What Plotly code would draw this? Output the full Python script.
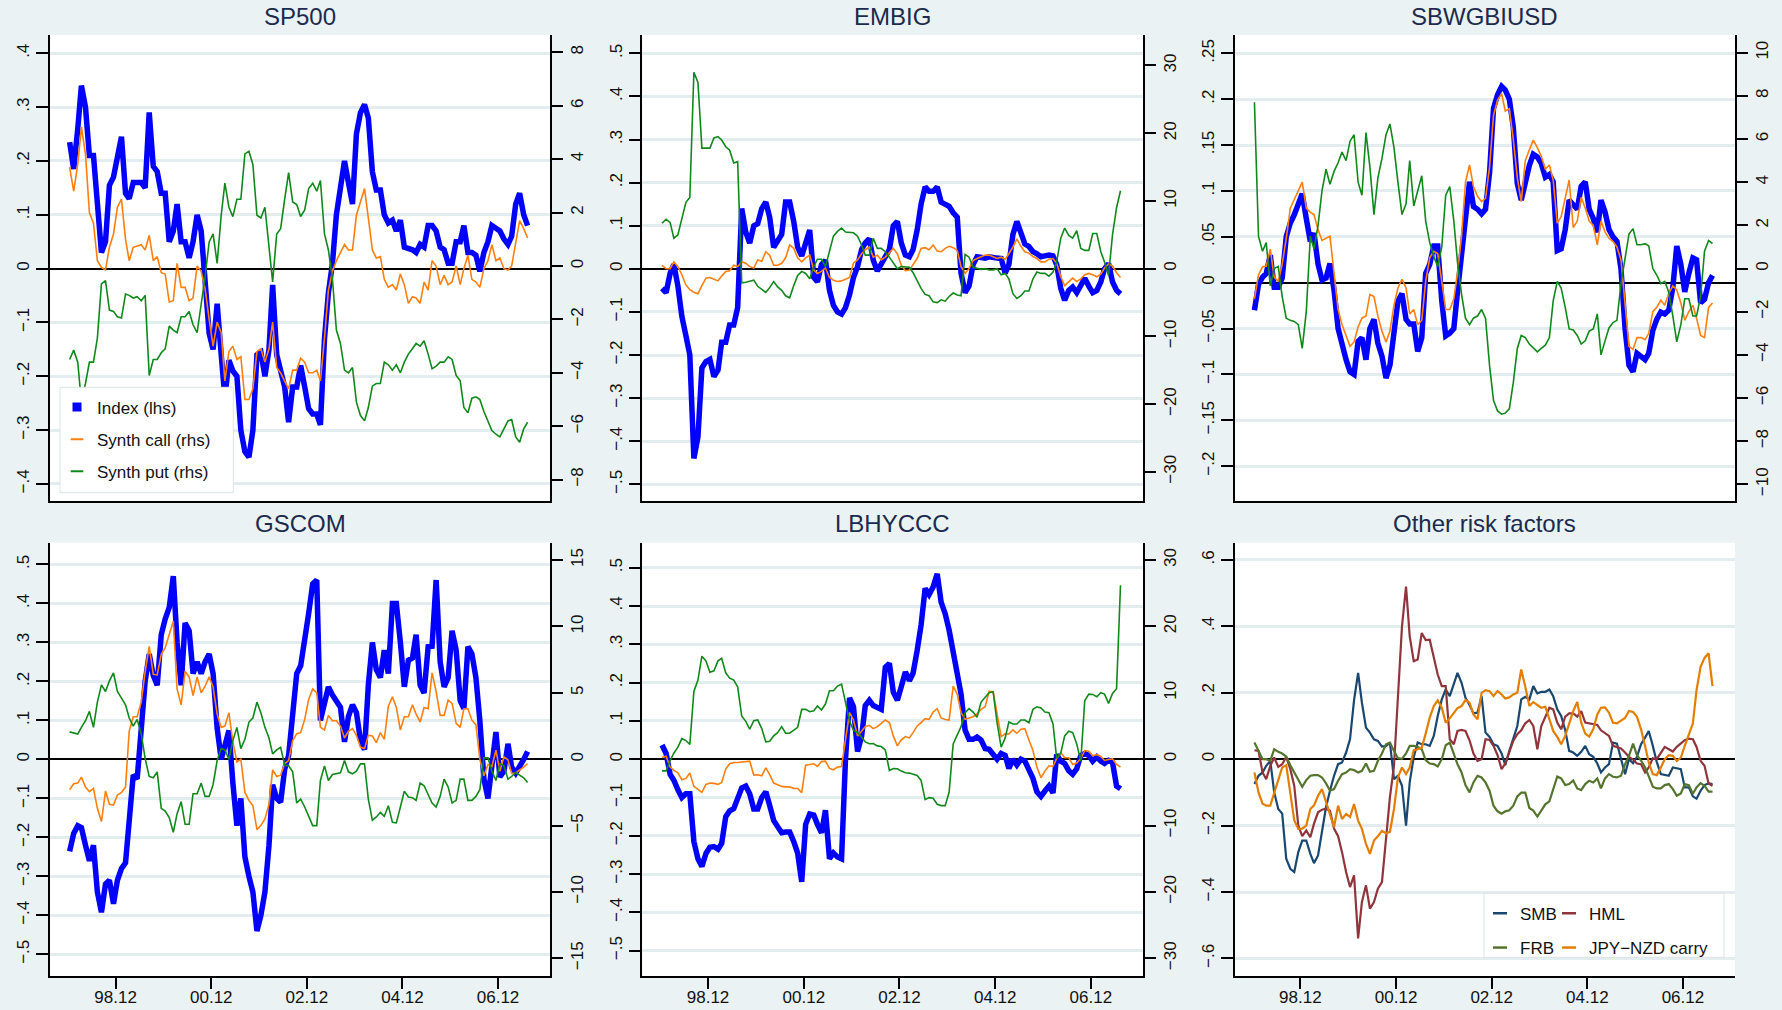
import pandas as pd
import plotly.graph_objects as go

W, H = 1782, 1010
FONT = "Liberation Sans, Arial, Helvetica, sans-serif"

# Monthly observations, Dec 1997 - Jul 2007 (mid-month stamps)
MONTHS = pd.date_range("1997-12-01", periods=116, freq="MS") + pd.Timedelta(days=14)
X_RANGE = ["1997-07-18", "2008-01-02"]
TICK_DATES = ["1998-12-01", "2000-12-01", "2002-12-01", "2004-12-01", "2006-12-01"]
TICK_LABELS = ["98.12", "00.12", "02.12", "04.12", "06.12"]

# ---------------- SP500 ----------------
SP500_INDEX = [
    .235, .185, .26, .34, .30, .21, .21, .13, .03, .05,
    .155, .17, .21, .245, .14, .13, .16, .16, .16, .15,
    .29, .19, .18, .14, .14, .05, .07, .12, .05, .05,
    .02, .05, .10, .07, -.01, -.12, -.15, -.065, -.16, -.24,
    -.17, -.19, -.20, -.30, -.34, -.35, -.30, -.16, -.155, -.20,
    -.15, -.03, -.16, -.19, -.22, -.285, -.22, -.22, -.18, -.22,
    -.26, -.27, -.27, -.29, -.13, -.045, .01, .10, .15, .20,
    .16, .12, .25, .29, .305, .28, .18, .146, .146, .10,
    .085, .09, .07, .09, .04, .038, .035, .03, .045, .04,
    .08, .08, .07, .04, .035, .01, .01, .05, .05, .08,
    .03, .03, .025, -.005, .03, .05, .08, .075, .07, .055,
    .045, .06, .12, .14, .10, .08]
SP500_CALL = [
    3.7, 2.8, 3.8, 5.2, 4.2, 2.0, 1.6, 0.2, -0.05, -0.15,
    0.7, 1.2, 2.2, 2.5, 1.0, 0.2, 0.7, 0.75, 0.8, 0.6,
    1.15, 0.2, 0.35, -0.25, -0.3, -1.35, -1.3, 0.1, -0.8, -0.8,
    -1.3, -1.2, 0.0, -0.2, -0.85, -2.0, -3.0, -2.1, -2.5, -4.3,
    -3.2, -3.0, -3.5, -3.4, -5.0, -5.0, -4.6, -3.2, -3.1, -3.6,
    -3.1, -2.1, -3.8, -4.0, -4.3, -4.6, -3.9, -3.9, -3.45, -3.6,
    -4.0, -4.0, -3.9, -4.3, -2.7, -0.9, -0.2, 0.2, 0.5, 0.8,
    0.6, 0.6, 1.9, 2.4, 2.9, 1.8, 0.6, 0.3, 0.35, -0.5,
    -0.8, -0.7, -0.9, -0.3, -0.7, -1.4, -1.15, -1.2, -1.4, -0.6,
    -0.9, 0.2, 0.0, -0.7, -0.35, -0.7, -0.6, 0.0, -0.7, -0.1,
    0.4, -0.5, -0.6, -0.8, -0.1, 0.2, 0.8, 0.2, 0.3, -0.1,
    -0.15, 0.0, 0.9, 1.7, 1.4, 1.05]
SP500_PUT = [
    -3.5, -3.15, -3.6, -5.1, -4.4, -3.6, -3.6, -2.7, -0.67, -0.55,
    -1.65, -1.7, -1.9, -1.95, -1.05, -1.1, -1.2, -1.15, -1.3, -1.1,
    -4.1, -3.5, -3.5, -3.25, -3.1, -2.25, -2.4, -2.5, -1.9, -1.9,
    -1.7, -2.2, -2.5, -1.5, -0.4, 0.9, 1.2, 0.1, 1.9, 3.1,
    2.2, 1.85, 2.5, 2.5, 4.2, 4.3, 3.8, 1.9, 1.8, 2.2,
    0.8, -0.6, 1.2, 1.4, 2.5, 3.5, 2.4, 2.3, 1.85, 2.1,
    2.9, 3.1, 2.8, 3.2, 1.2, 0.6, -0.5, -2.4, -2.9, -3.9,
    -4.0, -3.8, -5.1, -5.6, -5.8, -5.3, -4.5, -4.4, -4.4, -3.6,
    -3.7, -3.9, -3.7, -4.0, -3.6, -3.3, -3.1, -2.9, -3.0, -2.8,
    -3.3, -3.85, -3.75, -3.6, -3.6, -3.4, -3.5, -4.1, -4.3, -5.3,
    -5.5, -4.95, -4.9, -5.0, -5.45, -5.8, -6.16, -6.3, -6.4, -6.1,
    -5.8, -5.75, -6.4, -6.6, -6.1, -5.85]

# ---------------- EMBIG ----------------
EMBIG_INDEX = [
    -.045, -.055, -.01, .01, -.04, -.11, -.155, -.20, -.44, -.39,
    -.23, -.215, -.21, -.25, -.235, -.17, -.17, -.13, -.13, -.09,
    .14, .085, .06, .10, .105, .14, .155, .12, .05, .065,
    .08, .155, .155, .11, .05, .03, .06, .09, -.02, -.03,
    .01, .02, -.05, -.085, -.10, -.105, -.09, -.06, -.02, .005,
    .045, .06, .07, .02, -.005, .012, .025, .045, .10, .11,
    .06, .032, .028, .045, .09, .15, .19, .18, .18, .19,
    .155, .15, .145, .13, .12, -.01, -.055, -.04, .01, .028,
    .025, .025, .028, .028, .025, .024, -.01, .01, .08, .11,
    .08, .058, .052, .04, .035, .028, .03, .032, .03, .01,
    -.045, -.073, -.05, -.042, -.055, -.04, -.022, -.04, -.055, -.05,
    -.03, .0, .012, -.03, -.05, -.058]
EMBIG_CALL = [
    .5, 0.0, 0.0, 1.0, .3, -.9, -2.4, -3.1, -3.5, -3.7,
    -2.5, -1.4, -1.3, -1.55, -1.8, -1.1, -.4, -.3, .5, .3,
    1.0, .8, .3, .1, 1.3, 1.1, 2.5, 2.0, .5, .5,
    .8, 1.6, 3.5, 3.0, 1.6, 1.0, 1.6, 2.0, -.2, -.7,
    -.4, .1, -1.3, -1.7, -1.9, -1.8, -1.6, -1.3, .8, 1.3,
    2.2, 2.8, 3.2, 1.7, 2.0, 1.3, 1.7, 2.3, 3.0, 2.2,
    .5, -.3, -.2, .6, 1.5, 3.0, 3.1, 2.8, 3.5, 2.6,
    2.5, 3.0, 3.3, 3.1, 2.7, .3, -.7, 0.0, 1.2, 1.5,
    1.8, 2.0, 2.0, 1.8, 1.5, 1.7, 1.4, 2.2, 3.2, 4.4,
    3.3, 2.5, 2.3, 1.8, 1.5, 1.0, 1.0, 1.4, 1.5, .8,
    -1.2, -2.5, -1.9, -1.4, -1.9, -1.5, -.9, -.7, -.9, -1.2,
    -.8, .1, .7, .4, -.6, -1.3]
EMBIG_PUT = [
    6.7, 7.3, 6.8, 4.5, 5.0, 7.5, 9.8, 10.5, 29.0, 27.5,
    17.8, 17.8, 17.8, 19.3, 19.5, 19.0, 18.0, 17.5, 15.6, 15.8,
    -2.1, -2.0, -1.9, -1.7, -2.6, -3.1, -3.5, -2.8, -1.9, -2.7,
    -3.2, -4.0, -4.3, -2.5, -1.0, -.4, -.7, -1.5, .3, 1.4,
    1.4, .3, 2.5, 4.8, 5.5, 6.0, 5.4, 5.3, 5.3, 4.8,
    3.5, 2.0, 2.0, 4.5, 3.0, 3.0, 2.5, 1.7, .8, 0.0,
    .3, .3, .2, -.6, -1.9, -2.9, -3.8, -4.0, -4.9, -5.0,
    -4.6, -4.8, -4.1, -3.6, -3.9, -4.0, 2.1, 1.7, .2, 0.0,
    -.1, 0.0, -.2, -.2, 0.0, -.9, -.7, -1.5, -3.7, -4.4,
    -4.0, -3.3, -3.3, -1.5, -.5, -.7, -.7, -1.1, -.5, 1.0,
    4.5, 6.0, 4.9, 4.5, 5.6, 3.0, 2.7, 2.7, 5.2, 5.2,
    2.5, 1.0, -1.0, 5.0, 9.0, 11.5]

# ---------------- SBWGBIUSD ----------------
SBW_INDEX = [
    -.03, -.002, .006, .01, .03, -.005, -.005, .005, .05, .065,
    .074, .087, .097, .07, .045, .054, .02, .003, .005, .021,
    -.008, -.05, -.07, -.084, -.097, -.10, -.064, -.06, -.084, -.05,
    -.04, -.066, -.08, -.104, -.09, -.05, -.02, -.012, -.04, -.045,
    -.045, -.075, -.06, .01, .02, .04, .04, -.02, -.058, -.055,
    -.05, -.01, .032, .08, .11, .083, .08, .075, .08, .12,
    .19, .205, .214, .21, .20, .17, .108, .09, .11, .128,
    .14, .137, .13, .115, .118, .11, .035, .037, .058, .09,
    .085, .08, .105, .11, .08, .07, .055, .09, .077, .058,
    .05, .045, .015, -.05, -.09, -.097, -.077, -.08, -.084, -.077,
    -.052, -.04, -.032, -.034, -.03, -.005, .04, .02, -.01, .01,
    .027, .025, -.022, -.018, 0.0, .008]
SBW_CALL = [
    -1.4, -.3, .08, .1, .9, -.4, -.6, .2, 1.4, 2.8,
    3.2, 3.6, 4.0, 2.8, 2.6, 2.5, 1.8, 1.3, 1.4, 1.5,
    -.2, -1.9, -2.6, -3.1, -3.6, -3.4, -2.7, -2.3, -2.2, -1.2,
    -1.3, -2.2, -2.9, -3.4, -2.9, -1.7, -.9, -.5, -.9, -2.1,
    -1.9, -2.6, -2.4, -.6, .5, .8, .7, -.6, -1.9, -1.9,
    -1.4, -.2, 1.5, 4.0, 4.8, 3.8, 3.35, 3.1, 3.25, 4.7,
    7.1, 7.8, 8.1, 7.3, 7.4, 6.0, 4.2, 3.1, 5.0, 5.5,
    5.95, 5.6, 5.2, 4.6, 4.8, 4.1, 2.1, 2.4, 3.2, 4.1,
    1.9, 2.2, 3.3, 2.8, 2.2, 2.0, 1.1, 2.2, 1.7, 1.4,
    1.25, 1.0, .4, -1.6, -3.6, -3.75, -3.2, -3.2, -3.3, -3.0,
    -2.0, -1.8, -1.47, -1.7, -1.15, -.8, -1.0, -1.6, -2.4, -2.0,
    -1.7, -2.3, -3.1, -3.2, -1.8, -1.6]
SBW_PUT = [
    7.7, 1.5, .8, 1.2, -.8, 0.0, .1, -1.3, -2.3, -2.4,
    -2.45, -2.6, -3.7, -2.0, 1.5, .9, 2.0, 3.6, 4.6, 3.9,
    4.5, 4.9, 5.4, 5.0, 5.9, 6.2, 4.0, 3.4, 6.3, 4.7,
    2.5, 4.2, 5.1, 6.2, 6.7, 5.6, 4.0, 2.5, 3.0, 5.0,
    2.9, 3.6, 4.3, 2.2, 1.2, .55, .1, 1.0, 3.4, 3.8,
    2.2, .3, -1.2, -2.3, -2.6, -2.3, -2.2, -1.9, -2.3, -4.5,
    -6.1, -6.6, -6.75, -6.7, -6.5, -5.3, -3.7, -3.1, -3.2, -3.5,
    -3.7, -3.86, -3.7, -3.55, -3.2, -1.5, -.6, -.9, -1.8, -2.8,
    -2.85, -3.1, -3.5, -3.35, -2.9, -2.8, -2.1, -4.0, -3.35, -2.75,
    -2.5, -2.4, -.7, .4, 1.6, 1.85, 1.1, 1.1, 1.15, 1.05,
    0.0, -.3, -.7, -.6, -1.1, -2.2, -3.4, -2.6, -1.4, -1.4,
    -2.2, -2.2, -1.3, .8, 1.3, 1.16]

# ---------------- GSCOM ----------------
GSCOM_INDEX = [
    -.236, -.19, -.17, -.175, -.22, -.26, -.22, -.34, -.392, -.32,
    -.31, -.37, -.31, -.28, -.265, -.16, -.04, -.05, .10, .20,
    .27, .215, .19, .32, .36, .39, .47, .30, .19, .35,
    .33, .22, .25, .22, .25, .27, .22, .08, 0.0, .03,
    .074, -.06, -.17, -.10, -.25, -.30, -.34, -.44, -.40, -.34,
    -.22, -.065, -.10, -.11, -.025, .01, .125, .22, .24, .32,
    .374, .45, .46, .10, .14, .186, .165, .15, .134, .045,
    .11, .14, .12, .049, .025, .19, .30, .23, .21, .28,
    .22, .40, .40, .30, .186, .254, .26, .32, .19, .17,
    .289, .29, .46, .25, .186, .21, .33, .28, .15, .13,
    .289, .271, .21, .10, -.05, -.10, -.01, .07, -.045, -.03,
    .04, -.02, -.035, -.02, 0.0, .02]
GSCOM_CALL = [
    -2.3, -1.85, -1.8, -1.35, -2.1, -2.45, -2.2, -3.7, -4.7, -2.4,
    -3.4, -3.45, -2.7, -2.5, -2.1, 2.1, 3.2, 3.2, 4.3, 6.6,
    8.5, 6.4, 6.35, 7.9, 8.4, 9.4, 10.4, 5.3, 4.1, 6.6,
    6.2, 4.8, 6.2, 5.0, 5.5, 6.2, 5.45, 3.4, 2.4, 2.5,
    3.5, 1.3, -.2, 0.0, -2.5, -3.1, -3.5, -5.3, -5.0, -4.5,
    -3.4, -.8, -1.3, -1.2, -.33, -.1, 1.4, 1.93, 2.0, 3.0,
    4.5, 5.3, 5.0, 2.4, 2.2, 3.3, 2.9, 2.9, 2.5, 1.6,
    2.1, 2.3, 1.8, .9, .8, 1.8, 1.75, 1.25, 2.0, 1.5,
    4.0, 4.7, 3.9, 2.2, 3.2, 3.2, 4.1, 3.4, 2.8, 3.9,
    3.8, 6.5, 5.1, 3.3, 3.3, 4.45, 4.2, 2.7, 2.4, 3.8,
    3.8, 2.94, 2.6, 0.0, -1.25, -.4, -.55, .68, -.9, .18,
    -.05, -1.08, -1.05, -.8, -.6, -.33]
GSCOM_PUT = [
    2.06, 2.0, 1.9, 2.4, 2.9, 3.6, 2.4, 4.3, 5.6, 5.1,
    5.9, 6.5, 5.1, 4.6, 4.1, 3.1, 2.5, 3.0, 1.9, .05,
    -1.3, -1.4, -.95, -3.7, -3.9, -4.4, -5.5, -4.1, -3.2, -4.9,
    -4.9, -2.6, -2.6, -1.8, -2.8, -2.8, -1.9, -.1, .8, .7,
    0.0, 1.4, 2.4, .8, 1.5, 2.8, 3.1, 4.3, 3.5, 2.4,
    1.6, .4, .7, .9, -.45, -.5, -.95, -3.3, -3.0, -3.6,
    -4.3, -5.0, -5.0, -1.6, -.5, -1.6, -1.15, -1.1, -1.03, -.1,
    -.95, -1.1, -.9, -.35, -.35, -3.0, -4.6, -4.35, -4.0, -4.3,
    -3.5, -4.75, -4.8, -3.6, -2.4, -2.85, -2.9, -3.1, -1.8, -2.0,
    -2.7, -3.3, -3.6, -2.8, -1.5, -2.1, -3.3, -3.1, -1.5, -1.5,
    -3.1, -3.1, -2.8, -2.3, .1, .1, -.9, -1.6, -.33, -.5,
    -1.5, -1.3, -1.0, -1.2, -1.4, -1.75]

# ---------------- LBHYCCC ----------------
LBH_INDEX = [
    .037, .015, -.04, -.055, -.08, -.10, -.09, -.09, -.215, -.26,
    -.28, -.246, -.23, -.228, -.235, -.22, -.15, -.135, -.129, -.10,
    -.075, -.07, -.09, -.13, -.13, -.10, -.085, -.12, -.16, -.176,
    -.192, -.19, -.19, -.215, -.245, -.32, -.17, -.143, -.146, -.17,
    -.192, -.133, -.26, -.245, -.255, -.26, 0.0, .16, .137, .02,
    .06, .14, .154, .14, .133, .13, .24, .25, .175, .154,
    .19, .228, .205, .225, .284, .35, .446, .43, .45, .484,
    .41, .38, .337, .285, .23, .17, .076, .052, .052, .058,
    .05, .028, .026, .015, 0.0, .015, .01, -.024, 0.0, -.015,
    0.0, -.005, -.029, -.05, -.085, -.097, -.083, -.07, -.088, .012,
    -.005, -.011, -.03, -.039, -.025, .01, .015, .01, -.005, .006,
    -.005, -.011, -.003, -.008, -.07, -.077]
LBH_CALL = [
    .25, .45, -1.2, -1.7, -2.05, -3.1, -2.9, -2.1, -4.1, -4.6,
    -5.0, -3.8, -3.6, -3.65, -3.8, -3.5, -1.5, -.7, -.5, -.5,
    -.4, -.4, -.3, -2.4, -2.35, -2.5, -1.3, -2.3, -3.6, -3.85,
    -4.1, -4.17, -4.17, -4.4, -4.42, -5.05, -.9, -.8, -.7, -1.1,
    -.35, -.3, -1.4, -1.6, -1.2, -1.1, 2.8, 7.0, 5.9, 3.5,
    4.2, 4.9, 5.1, 4.6, 4.9, 5.4, 5.9, 5.5, 3.5, 2.0,
    2.9, 3.4, 3.2, 4.0, 5.0, 5.5, 6.1, 6.0, 7.1, 7.6,
    6.2, 5.98, 5.9, 11.0, 9.8, 7.0, 6.0, 6.2, 6.4, 6.8,
    7.5, 7.9, 10.2, 10.15, 6.9, 3.4, 3.8, 3.8, 4.4, 3.9,
    4.5, 4.6, 2.9, 1.3, -1.2, -2.8, -1.8, -1.0, -1.1, .1,
    1.0, .2, .2, -.8, -.6, .1, 1.3, 1.2, .5, .7,
    .4, -.2, -.05, .05, -.8, -1.2]
LBH_PUT = [
    -1.76, -1.76, -.2, .9, 1.8, 3.1, 2.8, 2.2, 10.2, 11.9,
    15.5, 14.8, 13.1, 13.3, 14.8, 15.2, 13.0, 12.2, 11.9, 10.9,
    6.5, 5.7, 4.5, 5.8, 5.9, 4.6, 2.6, 2.7, 3.5, 4.0,
    4.9, 3.9, 3.9, 4.4, 4.8, 7.5, 7.5, 7.14, 7.3, 8.0,
    7.4, 8.3, 10.3, 10.3, 11.0, 11.3, 8.7, 5.7, 4.37, 4.0,
    3.3, 2.6, 2.33, 2.36, 2.0, 1.9, 1.4, -1.7, -1.4, -1.45,
    -1.8, -2.06, -2.1, -2.3, -2.45, -3.2, -6.1, -5.8, -5.9, -6.8,
    -7.0, -7.0, -5.0, 2.3, 3.6, 4.9, 7.0, 7.6, 7.1, 6.3,
    8.6, 9.3, 10.0, 10.15, 5.5, 1.8, 3.2, 5.6, 5.3, 5.3,
    5.9, 5.9, 5.5, 7.5, 7.89, 7.7, 7.1, 7.0, 5.3, .1,
    .9, 3.5, 4.2, 4.0, 2.3, -.3, 8.8, 9.8, 9.75, 9.4,
    10.0, 9.8, 8.4, 9.9, 10.6, 26.2]

# ---------------- Other risk factors ----------------
SMB = [
    -.075, -.05, -.04, -.02, -.005, -.10, -.15, -.164, -.30, -.33,
    -.34, -.28, -.245, -.245, -.285, -.313, -.29, -.22, -.144, -.095,
    -.05, -.015, -.01, .02, .06, .178, .26, .17, .095, .08,
    .06, .055, .038, .04, .05, -.06, -.05, -.08, -.20, -.07,
    .007, .05, .045, .045, .04, .07, .13, .18, .21, .19,
    .23, .26, .23, .185, .163, .138, .14, .19, .08, .067,
    .045, .04, .017, -.018, .025, .065, .10, .18, .188, .18,
    .22, .198, .203, .203, .21, .19, .15, .13, .087, .025,
    .02, .01, .022, .04, .015, .007, -.013, -.04, -.025, -.015,
    .05, .047, 0.0, -.045, 0.0, -.012, .007, .045, .065, .085,
    .04, -.008, -.045, -.048, -.05, -.025, -.028, -.03, -.085, -.085,
    -.112, -.119, -.095, -.078, -.073, -.075]
HML = [
    .027, .025, -.04, -.06, -.02, .005, -.023, -.015, .007, -.03,
    -.08, -.20, -.232, -.215, -.235, -.194, -.16, -.152, -.149, -.155,
    -.209, -.232, -.28, -.34, -.385, -.35, -.54, -.43, -.38, -.45,
    -.43, -.39, -.37, -.25, -.114, -.02, .20, .40, .52, .37,
    .295, .30, .38, .359, .36, .31, .255, .22, .22, .06,
    .045, .085, .088, .085, .057, .017, -.005, 0.0, .06, .058,
    .04, .012, -.03, -.013, .025, .055, .075, .087, .108, .118,
    .10, .03, .10, .128, .155, .15, .11, .09, .128, .138,
    .138, .128, .145, .11, .108, .104, .103, .087, .078, .07,
    .04, .037, .032, .02, .007, -.001, -.013, -.015, -.04, -.025,
    .003, 0.0, .02, .037, .03, .023, .037, .047, .057, .062,
    .06, .037, -.005, -.02, -.073, -.08]
FRB = [
    .05, .025, 0.0, 0.0, -.005, .03, .022, .017, .008, -.018,
    -.038, -.062, -.083, -.063, -.05, -.048, -.048, -.055, -.073, -.095,
    -.09, -.065, -.045, -.04, -.03, -.033, -.04, -.035, -.013, -.038,
    -.035, -.005, .017, .045, .05, .025, .003, .001, .017, .04,
    .04, .037, .03, -.003, -.013, -.015, -.022, 0.0, .042, .05,
    .015, -.015, -.04, -.078, -.10, -.07, -.05, -.055, -.07, -.095,
    -.14, -.157, -.164, -.157, -.154, -.14, -.112, -.101, -.101, -.147,
    -.155, -.173, -.155, -.136, -.127, -.09, -.052, -.058, -.078, -.075,
    -.064, -.088, -.093, -.075, -.065, -.07, -.058, -.088, -.058, -.045,
    -.053, -.055, -.05, -.015, .01, .047, .012, -.004, -.025, -.052,
    -.083, -.088, -.088, -.078, -.075, -.09, -.11, -.103, -.075, -.078,
    -.104, -.085, -.072, -.08, -.098, -.098]
CARRY = [
    -.04, -.10, -.134, -.14, -.14, -.10, -.06, -.025, -.018, -.11,
    -.184, -.21, -.209, -.20, -.15, -.139, -.11, -.09, -.129, -.17,
    -.205, -.14, -.18, -.165, -.174, -.135, -.185, -.21, -.255, -.285,
    -.245, -.232, -.216, -.223, -.219, -.15, -.055, -.025, -.045, -.025,
    .027, .03, .035, .077, .125, .16, .177, .155, .11, .123,
    .138, .154, .16, .178, .17, .135, .12, .2, .208, .205,
    .19, .205, .195, .183, .186, .195, .2, .27, .218, .16,
    .172, .163, .155, .158, .123, .085, .067, .045, .07, .11,
    .145, .172, .11, .077, .068, .09, .135, .155, .156, .14,
    .11, .108, .115, .124, .145, .142, .128, .09, .04, -.01,
    -.045, -.048, -.026, 0.0, .012, .01, -.005, .005, .04, .077,
    .108, .208, .278, .305, .319, .22]

# ---------------- axis ticks ----------------
SP500_L_TICKS = [-.4, -.3, -.2, -.1, 0, .1, .2, .3, .4]
SP500_L_LABELS = ["\u2212.4", "\u2212.3", "\u2212.2", "\u2212.1", "0", ".1", ".2", ".3", ".4"]
SP500_R_TICKS = [-8, -6, -4, -2, 0, 2, 4, 6, 8]
SP500_R_LABELS = ["\u22128", "\u22126", "\u22124", "\u22122", "0", "2", "4", "6", "8"]

HALF_TICKS = [-.5, -.4, -.3, -.2, -.1, 0, .1, .2, .3, .4, .5]
HALF_LABELS = ["\u2212.5", "\u2212.4", "\u2212.3", "\u2212.2", "\u2212.1", "0",
               ".1", ".2", ".3", ".4", ".5"]
THIRTY_TICKS = [-30, -20, -10, 0, 10, 20, 30]
THIRTY_LABELS = ["\u221230", "\u221220", "\u221210", "0", "10", "20", "30"]

SBW_L_TICKS = [-.2, -.15, -.1, -.05, 0, .05, .1, .15, .2, .25]
SBW_L_LABELS = ["\u2212.2", "\u2212.15", "\u2212.1", "\u2212.05", "0", ".05", ".1", ".15", ".2", ".25"]
SBW_R_TICKS = [-10, -8, -6, -4, -2, 0, 2, 4, 6, 8, 10]
SBW_R_LABELS = ["\u221210", "\u22128", "\u22126", "\u22124", "\u22122", "0", "2", "4", "6", "8", "10"]

GSCOM_R_TICKS = [-15, -10, -5, 0, 5, 10, 15]
GSCOM_R_LABELS = ["\u221215", "\u221210", "\u22125", "0", "5", "10", "15"]

OTHER_TICKS = [-.6, -.4, -.2, 0, .2, .4, .6]
OTHER_LABELS = ["\u2212.6", "\u2212.4", "\u2212.2", "0", ".2", ".4", ".6"]

# ---------------- styling ----------------
BG = "#eaf2f3"
GRID = "#e3ecef"
LEGEND_EDGE = "#dbe4e7"
TITLE_COLOR = "#1c2a4d"
INDEX_BLUE = "#0000ff"
CALL_ORANGE = "#ff7f0e"
PUT_GREEN = "#11881b"
SMB_COLOR = "#1a476f"
HML_COLOR = "#90353b"
FRB_COLOR = "#55752f"
CARRY_COLOR = "#e37e00"


def px_x(v):
    return v / W


def px_y(v):
    return 1 - v / H


COL_X = [(50, 550), (642.4, 1142.9), (1234.8, 1734.9)]
ROW_Y = [(35, 501), (542.7, 976)]

PANELS = [
    dict(title="SP500", row=0, col=0,
         lrange=[-0.4316, 0.434], lticks=SP500_L_TICKS, llabels=SP500_L_LABELS,
         rrange=[-8.8, 8.65], rticks=SP500_R_TICKS, rlabels=SP500_R_LABELS,
         index=SP500_INDEX, call=SP500_CALL, put=SP500_PUT),
    dict(title="EMBIG", row=0, col=1,
         lrange=[-0.5386, 0.5426], lticks=HALF_TICKS, llabels=HALF_LABELS,
         rrange=[-34.3, 34.5], rticks=THIRTY_TICKS, rlabels=THIRTY_LABELS,
         index=EMBIG_INDEX, call=EMBIG_CALL, put=EMBIG_PUT),
    dict(title="SBWGBIUSD", row=0, col=2,
         lrange=[-0.238, 0.270], lticks=SBW_L_TICKS, llabels=SBW_L_LABELS,
         rrange=[-10.77, 10.82], rticks=SBW_R_TICKS, rlabels=SBW_R_LABELS,
         index=SBW_INDEX, call=SBW_CALL, put=SBW_PUT),
    dict(title="GSCOM", row=1, col=0,
         lrange=[-0.5555, 0.5557], lticks=HALF_TICKS, llabels=HALF_LABELS,
         rrange=[-16.33, 16.31], rticks=GSCOM_R_TICKS, rlabels=GSCOM_R_LABELS,
         index=GSCOM_INDEX, call=GSCOM_CALL, put=GSCOM_PUT),
    dict(title="LBHYCCC", row=1, col=1,
         lrange=[-0.566, 0.5653], lticks=HALF_TICKS, llabels=HALF_LABELS,
         rrange=[-32.66, 32.6], rticks=THIRTY_TICKS, rlabels=THIRTY_LABELS,
         index=LBH_INDEX, call=LBH_CALL, put=LBH_PUT),
    dict(title="Other risk factors", row=1, col=2,
         lrange=[-0.653, 0.652], lticks=OTHER_TICKS, llabels=OTHER_LABELS,
         rrange=[-0.653, 0.652], rticks=OTHER_TICKS, rlabels=OTHER_LABELS),
]

fig = go.Figure()
layout = {}
annotations = []

tickfont = dict(family=FONT, size=17, color="#111111")

for k, p in enumerate(PANELS):
    n = k + 1
    xname = "x" if n == 1 else f"x{n}"
    yl = "y" if n == 1 else f"y{n}"
    yr = f"y{n + 6}"
    xkey = "xaxis" if n == 1 else f"xaxis{n}"
    ylkey = "yaxis" if n == 1 else f"yaxis{n}"
    yrkey = f"yaxis{n + 6}"

    x0, x1 = COL_X[p["col"]]
    top, bot = ROW_Y[p["row"]]
    bottom_row = p["row"] == 1

    layout[xkey] = dict(
        domain=[px_x(x0), px_x(x1)], anchor=yl, type="date", range=X_RANGE,
        showgrid=False, zeroline=False, showline=True, linecolor="black", linewidth=1.5,
        tickmode="array", tickvals=TICK_DATES, ticktext=TICK_LABELS,
        ticks="outside" if bottom_row else "", ticklen=11, tickwidth=1.5, tickcolor="black",
        showticklabels=bottom_row, ticklabelstandoff=-6, tickfont=tickfont, fixedrange=True,
    )
    layout[ylkey] = dict(
        domain=[px_y(bot), px_y(top)], anchor=xname, range=p["lrange"],
        tickmode="array", tickvals=p["lticks"], ticktext=p["llabels"], tickangle=-90,
        ticks="outside", ticklen=12, tickwidth=1.5, tickcolor="black",
        showline=True, linecolor="black", linewidth=1.5,
        showgrid=True, gridcolor=GRID, gridwidth=2.5,
        zeroline=True, zerolinecolor="black", zerolinewidth=2.2,
        tickfont=tickfont, fixedrange=True,
    )
    layout[yrkey] = dict(
        overlaying=yl, anchor=xname, side="right", range=p["rrange"],
        tickmode="array", tickvals=p["rticks"], ticktext=p["rlabels"], tickangle=-90,
        ticks="outside", ticklen=11, tickwidth=1.5, tickcolor="black",
        showline=True, linecolor="black", linewidth=1.5,
        showgrid=False, zeroline=False, tickfont=tickfont, fixedrange=True,
    )

    annotations.append(dict(
        text=p["title"], xref="paper", yref="paper",
        x=px_x((x0 + x1) / 2), y=px_y(16.7 if p["row"] == 0 else 523.3),
        xanchor="center", yanchor="middle", showarrow=False,
        font=dict(family=FONT, size=24, color=TITLE_COLOR),
    ))

    if "index" in p:
        fig.add_trace(go.Scatter(x=MONTHS, y=p["index"], xaxis=xname, yaxis=yl, mode="lines",
                                 line=dict(color=INDEX_BLUE, width=5.5), showlegend=False,
                                 name="Index (lhs)"))
        fig.add_trace(go.Scatter(x=MONTHS, y=p["call"], xaxis=xname, yaxis=yr, mode="lines",
                                 line=dict(color=CALL_ORANGE, width=1.6), showlegend=False,
                                 name="Synth call (rhs)"))
        fig.add_trace(go.Scatter(x=MONTHS, y=p["put"], xaxis=xname, yaxis=yr, mode="lines",
                                 line=dict(color=PUT_GREEN, width=1.6), showlegend=False,
                                 name="Synth put (rhs)"))
    else:
        for name, vals, color in [("SMB", SMB, SMB_COLOR), ("HML", HML, HML_COLOR),
                                  ("FRB", FRB, FRB_COLOR), ("JPY\u2212NZD carry", CARRY, CARRY_COLOR)]:
            fig.add_trace(go.Scatter(x=MONTHS, y=vals, xaxis=xname, yaxis=yl, mode="lines",
                                     line=dict(color=color, width=2.2), showlegend=False,
                                     name=name))

# Legend keys (short dashes / small square, Stata key style)
fig.add_trace(go.Scatter(x=[None], y=[None], xaxis="x", yaxis="y", mode="markers",
                         marker=dict(symbol="square", size=9, color=INDEX_BLUE),
                         name="Index (lhs)", legend="legend", legendgroup="a"))
fig.add_trace(go.Scatter(x=[None], y=[None], xaxis="x", yaxis="y", mode="markers",
                         marker=dict(symbol="line-ew", size=9, line=dict(width=2, color=CALL_ORANGE)),
                         name="Synth call (rhs)", legend="legend", legendgroup="b"))
fig.add_trace(go.Scatter(x=[None], y=[None], xaxis="x", yaxis="y", mode="markers",
                         marker=dict(symbol="line-ew", size=9, line=dict(width=2, color=PUT_GREEN)),
                         name="Synth put (rhs)", legend="legend", legendgroup="c"))

for name, color, leg, lw in [("SMB", SMB_COLOR, "legend2", 24), ("HML", HML_COLOR, "legend2", None),
                             ("FRB", FRB_COLOR, "legend3", 24),
                             ("JPY\u2212NZD carry", CARRY_COLOR, "legend3", None)]:
    kw = dict(legendwidth=lw) if lw else {}
    fig.add_trace(go.Scatter(x=[None], y=[None], xaxis="x6", yaxis="y6", mode="markers",
                             marker=dict(symbol="line-ew", size=10, line=dict(width=2.5, color=color)),
                             name=name, legend=leg, **kw))

legend_font = dict(family=FONT, size=17, color="#111111")
clear = "rgba(0,0,0,0)"
layout["legend"] = dict(
    x=px_x(57), y=px_y(389.5), xanchor="left", yanchor="top",
    bgcolor=clear, borderwidth=0,
    font=legend_font, traceorder="grouped", tracegroupgap=7, itemwidth=30,
)
layout["legend2"] = dict(
    x=px_x(1480), y=px_y(895.6), xanchor="left", yanchor="top", orientation="h",
    bgcolor=clear, borderwidth=0, font=legend_font, itemwidth=30,
)
layout["legend3"] = dict(
    x=px_x(1480), y=px_y(930), xanchor="left", yanchor="top", orientation="h",
    bgcolor=clear, borderwidth=0, font=legend_font, itemwidth=30,
)

# white legend frames
shapes = [
    dict(type="rect", xref="paper", yref="paper", layer="above",
         x0=px_x(60), x1=px_x(233.3), y0=px_y(492.7), y1=px_y(387.3),
         fillcolor="white", line=dict(color=LEGEND_EDGE, width=1)),
    dict(type="rect", xref="paper", yref="paper", layer="above",
         x0=px_x(1484), x1=px_x(1724), y0=px_y(957.3), y1=px_y(893.3),
         fillcolor="white", line=dict(color=LEGEND_EDGE, width=1)),
]

fig.update_layout(
    width=W, height=H, margin=dict(l=0, r=0, t=0, b=0, autoexpand=False),
    paper_bgcolor=BG, plot_bgcolor="white",
    font=dict(family=FONT, size=17, color="#111111"),
    annotations=annotations, shapes=shapes, showlegend=True,
    **layout,
)

fig.write_html("out.html", config={"displayModeBar": False})
